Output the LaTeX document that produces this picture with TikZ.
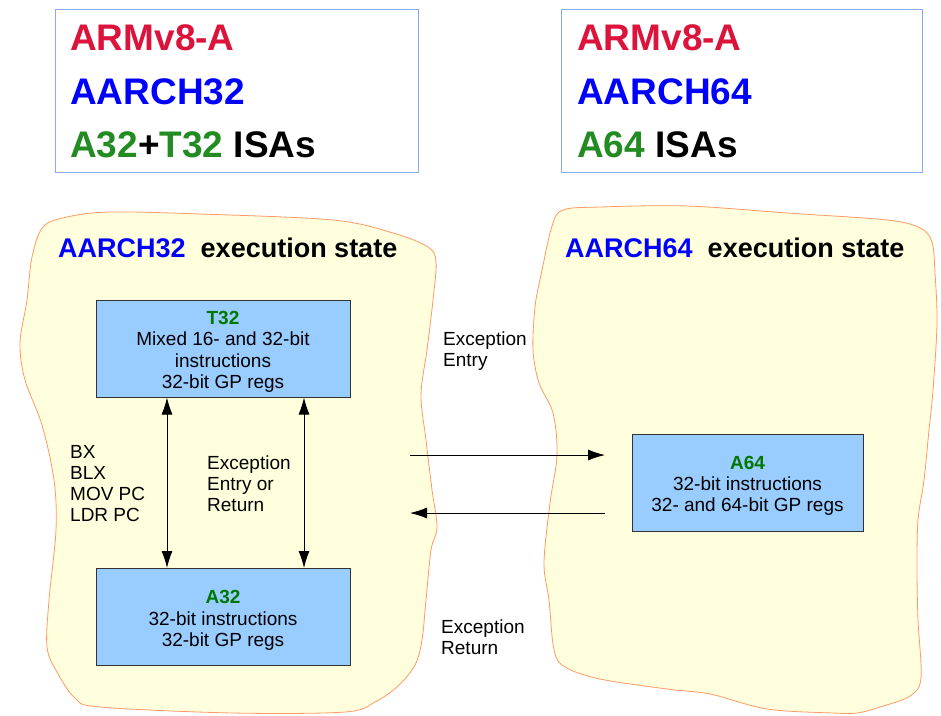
\documentclass[tikz,border=0pt]{standalone}
\usepackage{fontspec}
\setmainfont{Liberation Sans}
\usetikzlibrary{arrows.meta}
\definecolor{armred}{HTML}{DC143C}
\definecolor{armblue}{HTML}{0000FF}
\definecolor{armgreen}{HTML}{228B22}
\definecolor{boxgreen}{HTML}{007700}
\definecolor{boxfill}{HTML}{99CCFF}
\definecolor{boxline}{HTML}{333333}
\definecolor{blobfill}{HTML}{FFFFDD}
\definecolor{blobline}{HTML}{FF9966}
\definecolor{frameblue}{HTML}{88AAEE}
\newcommand{\topstrut}{\rule{0pt}{20pt}}
\tikzset{
  isabox/.style={draw=boxline, fill=boxfill, line width=1pt, minimum height=97pt, inner sep=0pt, align=center, font=\fontsize{19}{21.3}\selectfont},
  lbl/.style={inner sep=0pt, align=left, anchor=west, font=\fontsize{19}{21}\selectfont},
  big/.style={inner sep=0pt, anchor=base west, font=\fontsize{37}{40}\selectfont\bfseries},
  ttl/.style={inner sep=0pt, anchor=base west, font=\fontsize{27}{30}\selectfont\bfseries},
  arr/.style={-{Latex[length=17pt,width=11pt]}, line width=0.9pt},
  darr/.style={{Latex[length=17pt,width=11pt]}-{Latex[length=17pt,width=11pt]}, line width=0.9pt},
  blob/.style={draw=blobline, fill=blobfill, line width=0.8pt},
  framebox/.style={draw=frameblue, line width=1pt, inner sep=0pt, minimum height=163pt}
}
\begin{document}
\begin{tikzpicture}[x=1pt,y=-1pt]
\useasboundingbox (0,0) rectangle (941,715);
\fill[white] (0,0) rectangle (941,715);

% top frames
\node[framebox, minimum width=363pt] (lframe) at (236.5,90.5) {};
\node[framebox, minimum width=361pt] (rframe) at (741.5,90.5) {};
\node[big, text=armred] (l1) at (70,50.5) {ARMv8-A};
\node[big, text=armblue] (l2) at (70,104) {AARCH32};
\node[big] (l3) at (70,157.5) {\textcolor{armgreen}{A32}+\textcolor{armgreen}{T32} ISAs};
\node[big, text=armred] (r1) at (577,50.5) {ARMv8-A};
\node[big, text=armblue] (r2) at (577,104) {AARCH64};
\node[big] (r3) at (577,157.5) {\textcolor{armgreen}{A64} ISAs};

% blobs
\draw[blob] plot[smooth cycle, tension=0.55] coordinates {
 (43,227) (67,217) (110,212) (200,214) (333,220) (393,233) (428,247)
 (436,262) (433,300) (427,350) (421,395) (426,440) (432,490) (437,527)
 (431,550) (426,600) (422,640) (415,665) (398,686) (375,702) (345,712)
 (233,713) (100,707) (75,698) (57,672) (47,647) (49,600) (56,530)
 (54,480) (42,425) (25,380) (20,343) (27,300) (32,257)};
\draw[blob] plot[smooth cycle, tension=0.55] coordinates {
 (563,210) (600,207) (687,206) (787,213) (887,220) (920,228) (932,242)
 (935,273) (937,323) (933,390) (929,430) (924,480) (918,520) (917,570)
 (918,620) (921,678) (910,696) (880,707) (857,713) (833,713) (767,709)
 (710,694) (667,689) (600,679) (565,667) (554,650) (549,600) (544,563)
 (550,503) (557,455) (553,413) (539,383) (533,350) (535,307) (541,275) (552,226)};

% titles
\node[ttl] (t1) at (58,257.5) {\textcolor{armblue}{AARCH32}\ \ execution state};
\node[ttl] (t2) at (565,257.5) {\textcolor{armblue}{AARCH64}\ \ execution state};

% ISA boxes
\node[isabox, minimum width=254pt] (t32) at (223,348.5)
  {\topstrut\textcolor{boxgreen}{\bfseries T32}\\Mixed 16- and 32-bit\\instructions\\32-bit GP regs};
\node[isabox, minimum width=254pt] (a32) at (223,617)
  {\topstrut\textcolor{boxgreen}{\bfseries A32}\\32-bit instructions\\32-bit GP regs};
\node[isabox, minimum width=231pt] (a64) at (747.5,482.5)
  {\topstrut\textcolor{boxgreen}{\bfseries A64}\\32-bit instructions\\32- and 64-bit GP regs};

% vertical arrows
\draw[darr] ([xshift=-56pt]t32.south) -- ([xshift=-56pt]a32.north);
\draw[darr] ([xshift=81pt]t32.south) -- ([xshift=81pt]a32.north);

% horizontal arrows
\coordinate (ea) at (410,455);
\coordinate (eb) at (605,455);
\coordinate (ra) at (605,513);
\coordinate (rb) at (410,513);
\draw[arr] (ea) -- (eb);
\draw[arr] (ra) -- (rb);

% labels
\node[lbl] (bx) at (70,484) {BX\\BLX\\MOV PC\\LDR PC};
\node[lbl] (eer) at (207,483.5) {Exception\\Entry or\\Return};
\node[lbl] (ee) at (443,351) {Exception\\Entry};
\node[lbl] (er) at (441,637) {Exception\\Return};
\end{tikzpicture}
\end{document}
